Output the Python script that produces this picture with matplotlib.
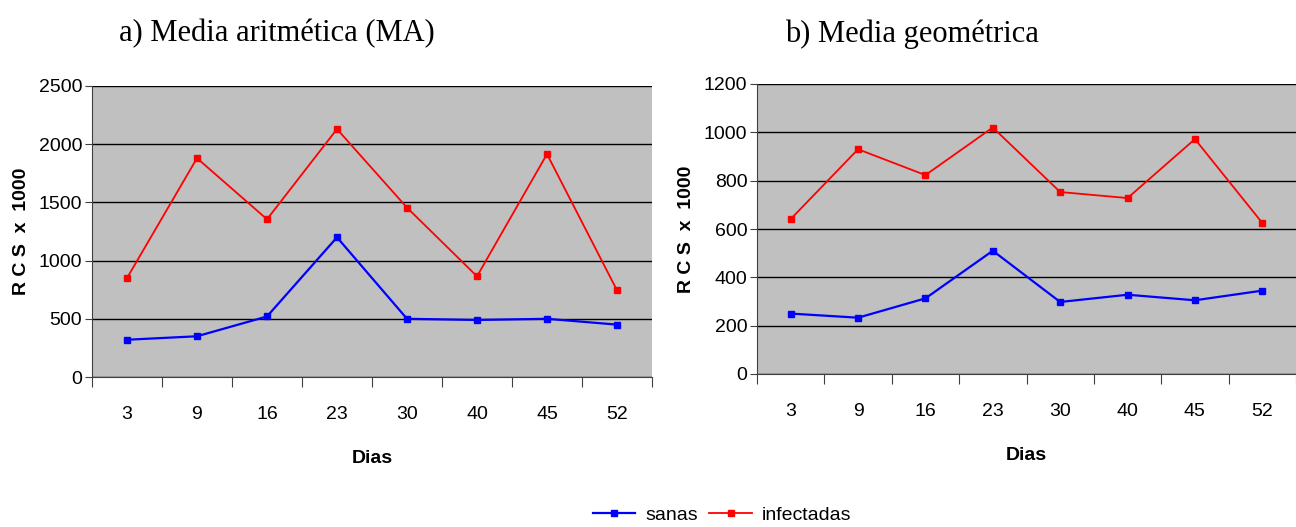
import matplotlib
matplotlib.use("Agg")
import matplotlib.pyplot as plt
from matplotlib.lines import Line2D
import numpy as np

dias = ["3", "9", "16", "23", "30", "40", "45", "52"]
ma_sanas = [320, 350, 520, 1200, 500, 490, 500, 450]
ma_infectadas = [850, 1880, 1355, 2130, 1455, 865, 1915, 745]
mg_sanas = [250, 233, 313, 510, 298, 328, 305, 345]
mg_infectadas = [641, 930, 823, 1020, 753, 728, 972, 625]
titles = ["a) Media aritmética (MA)", "b) Media geométrica"]
ylims = [(0, 2500, 500), (0, 1200, 200)]

fig = plt.figure(figsize=(12.96, 5.27), dpi=100)
sans = ["Liberation Sans Narrow", "Liberation Sans", "DejaVu Sans"]
serif = ["Liberation Serif", "DejaVu Serif"]

rects = [(92/1296, 1-377/527, 560/1296, 291/527),
         (757/1296, 1-374/527, 539/1296, 290/527)]
data = [(ma_sanas, ma_infectadas), (mg_sanas, mg_infectadas)]
title_x = [277/1296, 912/1296]

for i in range(2):
    ax = fig.add_axes(rects[i])
    ax.set_facecolor("#C0C0C0")
    x = np.arange(len(dias))
    s, inf = data[i]
    ax.plot(x, s, color="#0000FF", lw=1.6, marker="s", ms=5, zorder=3)
    ax.plot(x, inf, color="#FF0000", lw=1.3, marker="s", ms=5, zorder=3)
    lo, hi, st = ylims[i]
    ax.set_ylim(lo, hi)
    ax.set_yticks(np.arange(lo, hi + 1, st))
    ax.set_xlim(-0.5, len(dias) - 0.5)
    ax.set_xticks(np.arange(-0.5, len(dias), 1.0))
    ax.set_xticklabels([])
    ax.set_xticks(x, minor=True)
    ax.set_xticklabels(dias, minor=True, family=sans, fontsize=14)
    ax.tick_params(axis="x", which="minor", length=0, pad=21)
    ax.tick_params(axis="x", which="major", length=7, color="#404040", direction="out")
    ax.tick_params(axis="y", length=5, color="#404040", labelsize=14, pad=2)
    for lab in ax.get_yticklabels():
        lab.set_family(sans)
    ax.grid(axis="y", color="black", lw=1, zorder=1)
    ax.set_axisbelow(True)
    for sp in ["top", "right"]:
        ax.spines[sp].set_visible(False)
    ax.spines["left"].set_color("#404040")
    ax.spines["bottom"].set_color("#404040")
    ax.set_ylabel("R C S  x  1000", fontsize=14, fontweight="bold",
                  family=["Liberation Sans", "DejaVu Sans"], labelpad=6)
    ax.set_xlabel("Dias", fontsize=14, fontweight="bold",
                  family=["Liberation Sans", "DejaVu Sans"], labelpad=19)
    fig.text(title_x[i], 1 - 34/527, titles[i], ha="center", va="center",
             fontsize=22, family=serif)

handles = [Line2D([], [], color="#0000FF", marker="s", ms=5, lw=1.6),
           Line2D([], [], color="#FF0000", marker="s", ms=5, lw=1.3)]
fig.legend(handles, ["sanas", "infectadas"], loc="center", bbox_to_anchor=(722/1296, 1 - 515/527),
           ncol=2, frameon=False, prop={"family": sans, "size": 14},
           handlelength=2.2, columnspacing=0.6, handletextpad=0.5)

fig.savefig("out.png", dpi=100)
